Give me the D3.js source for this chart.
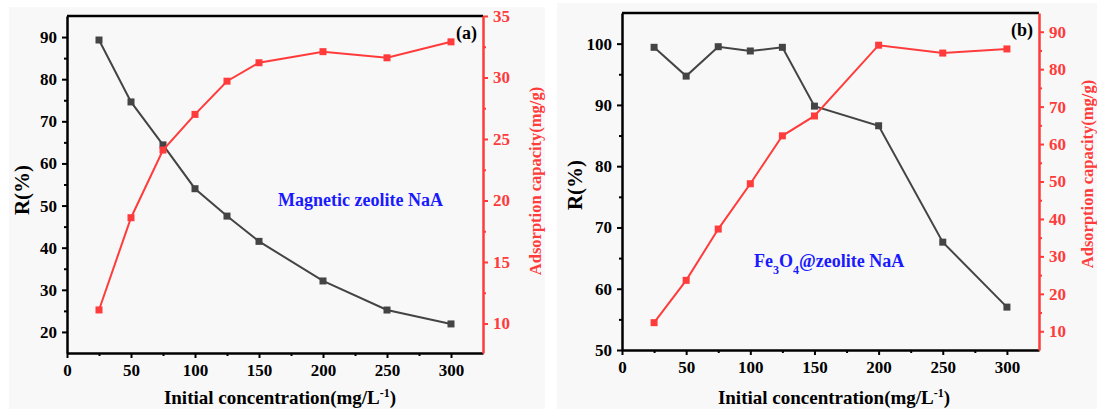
<!DOCTYPE html>
<html>
<head>
<meta charset="utf-8">
<script src="https://cdn.jsdelivr.net/npm/d3@7"></script>
<style>
  body { margin: 0; background: #fff; }
</style>
</head>
<body>
<div id="chart"></div>
<script>
// concentrations (mg/L)
const conc = [25, 50, 75, 100, 125, 150, 200, 250, 300];
// panel (a) Magnetic zeolite NaA
const rA = [89.3, 74.6, 64.4, 54.0, 47.5, 41.5, 32.1, 25.2, 21.9];
const qA = [11.1, 18.6, 24.1, 27.0, 29.7, 31.2, 32.1, 31.6, 32.9];
// panel (b) Fe3O4@zeolite NaA
const rB = [99.4, 94.7, 99.5, 98.8, 99.4, 89.8, 86.6, 67.6, 57.0];
const qB = [12.3, 23.6, 37.3, 49.4, 62.2, 67.5, 86.4, 84.3, 85.4];

const xTicks = [0, 50, 100, 150, 200, 250, 300];
const rTicksA = [20, 30, 40, 50, 60, 70, 80, 90];
const qTicksA = [10, 15, 20, 25, 30, 35];
const rTicksB = [50, 60, 70, 80, 90, 100];
const qTicksB = [10, 20, 30, 40, 50, 60, 70, 80, 90];

const black = "#444444";
const red = "#ff3b3b";
const serif = "'Liberation Serif', 'Times New Roman', serif";

const svg = d3.select("#chart").append("svg")
    .attr("width", 1097)
    .attr("height", 409)
    .attr("font-family", serif)
    .attr("font-weight", "bold");

function styleText(sel, size, color) {
    sel.attr("font-family", serif).attr("font-weight", "bold")
        .attr("font-size", size).attr("fill", color);
}

function drawPanel(cfg) {
    svg.append("rect")
        .attr("x", cfg.bg[0]).attr("y", cfg.bg[1])
        .attr("width", cfg.bg[2]).attr("height", cfg.bg[3])
        .attr("fill", "#f8f8f8");

    const g = svg.append("g").attr("transform", `translate(${cfg.left},${cfg.top})`);
    const w = cfg.width, h = cfg.height;

    const x = d3.scaleLinear().domain([0, 325]).range([0, w]);
    const yL = d3.scaleLinear().domain(cfg.rDomain).range([h, 0]);
    const yR = d3.scaleLinear().domain(cfg.qDomain).range([h, 0]);

    // minor ticks
    const minorX = d3.range(25, 325, 50);
    g.append("g").attr("transform", `translate(0,${h})`)
        .call(d3.axisBottom(x).tickValues(minorX).tickSize(3).tickFormat(""))
        .call(a => a.select(".domain").remove())
        .selectAll("line").attr("stroke", "#000").attr("stroke-width", 2);
    g.append("g")
        .call(d3.axisLeft(yL).tickValues(cfg.rMinor).tickSize(3).tickFormat(""))
        .call(a => a.select(".domain").remove())
        .selectAll("line").attr("stroke", "#000").attr("stroke-width", 2);
    g.append("g").attr("transform", `translate(${w},0)`)
        .call(d3.axisRight(yR).tickValues(cfg.qMinor).tickSize(3).tickFormat(""))
        .call(a => a.select(".domain").remove())
        .selectAll("line").attr("stroke", red).attr("stroke-width", 2);

    // top frame
    g.append("line").attr("x1", 0).attr("x2", w).attr("y1", 0).attr("y2", 0)
        .attr("stroke", "#000").attr("stroke-width", 2.5);

    // bottom axis
    const xa = g.append("g").attr("transform", `translate(0,${h})`)
        .call(d3.axisBottom(x).tickValues(xTicks).tickSize(5).tickSizeOuter(0).tickPadding(6));
    xa.select(".domain").attr("stroke", "#000").attr("stroke-width", 2.5);
    xa.selectAll("line").attr("stroke", "#000").attr("stroke-width", 2);
    styleText(xa.selectAll("text"), 17, "#000");

    // left axis
    const la = g.append("g")
        .call(d3.axisLeft(yL).tickValues(cfg.rTicks).tickSize(5).tickSizeOuter(0).tickPadding(5));
    la.select(".domain").attr("stroke", "#000").attr("stroke-width", 2.5);
    la.selectAll("line").attr("stroke", "#000").attr("stroke-width", 2);
    styleText(la.selectAll("text"), 17, "#000");

    // right axis
    const ra = g.append("g").attr("transform", `translate(${w},0)`)
        .call(d3.axisRight(yR).tickValues(cfg.qTicks).tickSize(5).tickSizeOuter(0).tickPadding(5));
    ra.select(".domain").attr("stroke", red).attr("stroke-width", 2.5);
    ra.selectAll("line").attr("stroke", red).attr("stroke-width", 2);
    styleText(ra.selectAll("text"), 17, red);

    // series
    const series = [
        { vals: cfg.r, y: yL, color: black },
        { vals: cfg.q, y: yR, color: red }
    ];
    series.forEach(s => {
        const pts = conc.map((c, i) => [c, s.vals[i]]);
        g.append("path")
            .datum(pts)
            .attr("fill", "none")
            .attr("stroke", s.color)
            .attr("stroke-width", 2)
            .attr("d", d3.line().x(d => x(d[0])).y(d => s.y(d[1])));
        g.selectAll(null).data(pts).enter().append("rect")
            .attr("x", d => x(d[0]) - 3.5)
            .attr("y", d => s.y(d[1]) - 3.5)
            .attr("width", 7).attr("height", 7)
            .attr("fill", s.color);
    });

    // panel tag
    styleText(g.append("text").attr("x", w - 6).attr("y", 23)
        .attr("text-anchor", "end").text(cfg.tag), 18, "#000");

    // sample name
    const nm = g.append("text").attr("x", cfg.nameX).attr("y", cfg.nameY);
    styleText(nm, 18, "#1a1aff");
    cfg.name.forEach(p => {
        const t = nm.append("tspan").text(p.t);
        if (p.sub) t.attr("baseline-shift", "sub").attr("font-size", 12);
    });

    // axis titles
    const xt = svg.append("text").attr("x", cfg.xTitle[0]).attr("y", cfg.xTitle[1])
        .attr("text-anchor", "middle");
    styleText(xt, 19, "#000");
    xt.append("tspan").text("Initial concentration(mg/L");
    xt.append("tspan").text("-1").attr("baseline-shift", "super").attr("font-size", 12);
    xt.append("tspan").text(")");

    styleText(svg.append("text")
        .attr("transform", `translate(${cfg.lTitle[0]},${cfg.lTitle[1]}) rotate(-90)`)
        .attr("text-anchor", "middle").attr("dy", "0.35em")
        .text("R(%)"), 21, "#000");
    styleText(svg.append("text")
        .attr("transform", `translate(${cfg.rTitle[0]},${cfg.rTitle[1]}) rotate(-90)`)
        .attr("text-anchor", "middle").attr("dy", "0.35em")
        .text("Adsorption capacity(mg/g)"), 16.5, red);
}

drawPanel({
    bg: [9, 7, 536, 402],
    left: 67, top: 16, width: 416, height: 337,
    rDomain: [15, 95], qDomain: [7.6, 35],
    rTicks: rTicksA, qTicks: qTicksA,
    rMinor: d3.range(25, 95, 10), qMinor: d3.range(12.5, 35, 5),
    r: rA, q: qA,
    tag: "(a)",
    name: [{ t: "Magnetic zeolite NaA" }],
    nameX: 211, nameY: 190,
    xTitle: [280, 404], lTitle: [22, 190], rTitle: [535, 181]
});

drawPanel({
    bg: [557, 3, 540, 406],
    left: 622, top: 13, width: 417, height: 337,
    rDomain: [50, 105], qDomain: [5, 95],
    rTicks: rTicksB, qTicks: qTicksB,
    rMinor: d3.range(55, 105, 10), qMinor: d3.range(15, 95, 10),
    r: rB, q: qB,
    tag: "(b)",
    name: [{ t: "Fe" }, { t: "3", sub: true }, { t: "O" }, { t: "4", sub: true }, { t: "@zeolite NaA" }],
    nameX: 132, nameY: 254,
    xTitle: [834, 404], lTitle: [575, 185], rTitle: [1087, 174]
});
</script>
</body>
</html>
